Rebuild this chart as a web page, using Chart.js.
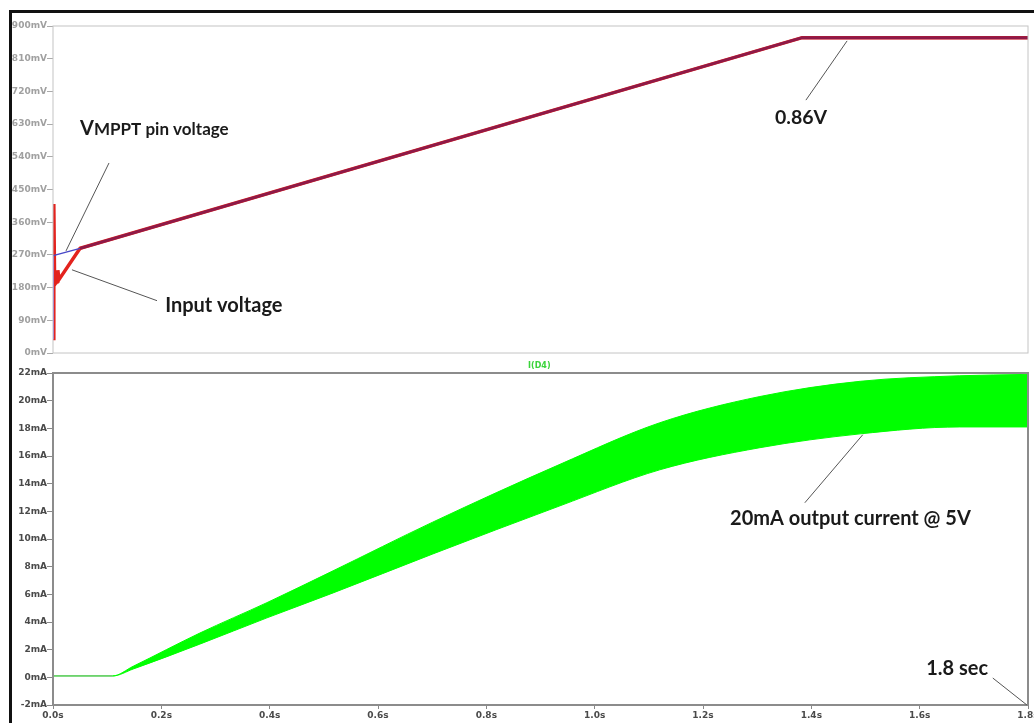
<!DOCTYPE html>
<html>
<head>
<meta charset="utf-8">
<script src="https://cdn.jsdelivr.net/npm/chart.js@4.4.1/dist/chart.umd.min.js"></script>
<style>
  body { margin: 0; background: #fff; overflow: hidden; width: 1034px; height: 723px; position: relative; }
  #cornice { position: absolute; left: 9px; top: 10px; width: 1100px; height: 800px; border-left: 3px solid #111; border-top: 3px solid #111; }
  canvas { position: absolute; left: 0; }
  #topChart { top: 0; }
  #bottomChart { top: 356px; }
</style>
</head>
<body>
<div id="cornice"></div>
<canvas id="topChart" width="1066" height="364"></canvas>
<canvas id="bottomChart" width="1066" height="367"></canvas>
<script>
// Tensioni (mV) - grafico superiore
const timeVmppt = [0, 0.0004, 0.05, 1.383, 1.8];
const vmppt = [40, 268, 288, 868, 868];
const timeInput = [0, 0.0015, 0.003, 0.0075, 0.009, 0.011, 0.05, 1.383, 1.8];
const inputVoltage = [40, 410, 188, 198, 228, 202, 288, 868, 868];

// Corrente I(D4) (mA) - inviluppo della banda, grafico inferiore
const timeCurrent = [0, 0.11, 0.148, 0.271, 0.395, 0.517, 0.7, 0.936, 1.12, 1.305, 1.49, 1.674, 1.8];
const currentUpper = [0.1, 0.1, 0.8, 3.2, 5.4, 7.7, 11.2, 15.4, 18.4, 20.3, 21.4, 21.8, 21.9];
const currentLower = [0.1, 0.1, 0.6, 2.4, 4.3, 6.1, 8.9, 12.4, 15.0, 16.6, 17.6, 18.1, 18.1];

// Etichette degli assi
const voltTicks = { min: 0, max: 900, step: 90 };
const ampTicks = { min: -2, max: 22, step: 2 };
const timeTicks = { min: 0, max: 1.8, step: 0.2 };

const toPoints = (xs, ys) => xs.map((x, i) => ({ x: x, y: ys[i] }));

const LABEL_FONT = { family: '"DejaVu Sans", sans-serif', size: 9, weight: 'bold' };
const NOTE_FONT = 'Lato, "Open Sans", sans-serif';

// Plugin per cornice del grafico, testi e linee di richiamo
const annotazioni = {
  id: 'annotazioni',
  afterDatasetsDraw(chart, args, opts) {
    const { ctx, chartArea, scales } = chart;
    const x = scales.x;
    const y = scales.y;
    ctx.save();
    ctx.strokeStyle = opts.frameColor;
    ctx.lineWidth = opts.frameWidth;
    ctx.strokeRect(chartArea.left, chartArea.top, chartArea.right - chartArea.left, chartArea.bottom - chartArea.top);

    (opts.lines || []).forEach((l) => {
      ctx.strokeStyle = '#555';
      ctx.lineWidth = 1;
      ctx.beginPath();
      ctx.moveTo(x.getPixelForValue(l[0]), y.getPixelForValue(l[1]));
      ctx.lineTo(x.getPixelForValue(l[2]), y.getPixelForValue(l[3]));
      ctx.stroke();
    });

    (opts.texts || []).forEach((t) => {
      ctx.fillStyle = t.color || '#1a1a1a';
      ctx.textBaseline = 'alphabetic';
      let px = x.getPixelForValue(t.x);
      const py = y.getPixelForValue(t.y);
      t.parts.forEach(([str, size]) => {
        ctx.font = `bold ${size}px ${t.family || NOTE_FONT}`;
        ctx.fillText(str, px, py);
        px += ctx.measureText(str).width;
      });
    });
    ctx.restore();
  },
};

const baseOptions = {
  responsive: false,
  animation: false,
  events: [],
  devicePixelRatio: 1,
};

// Grafico superiore: tensioni
new Chart(document.getElementById('topChart'), {
  type: 'line',
  plugins: [annotazioni],
  data: {
    datasets: [
      {
        label: 'VMPPT pin voltage',
        data: toPoints(timeVmppt, vmppt),
        borderColor: '#8e1a48',
        borderWidth: 3,
        pointRadius: 0,
        tension: 0,
        segment: {
          borderColor: (c) => (c.p0.parsed.x < 0.0003 ? '#8a5ad0' : c.p0.parsed.x < 0.04 ? '#4848c8' : undefined),
          borderWidth: (c) => (c.p0.parsed.x < 0.04 ? 1.5 : undefined),
        },
      },
      {
        label: 'Input voltage',
        data: toPoints(timeInput, inputVoltage),
        borderColor: '#e3231e',
        borderWidth: 3.5,
        pointRadius: 0,
        tension: 0,
      },
    ],
  },
  options: {
    ...baseOptions,
    layout: { padding: { top: 26, right: 38, left: 0, bottom: 0 } },
    scales: {
      x: {
        type: 'linear',
        min: timeTicks.min,
        max: timeTicks.max,
        ticks: { display: false },
        grid: { display: false },
        border: { display: false },
        afterFit: (s) => { s.height = 11; },
      },
      y: {
        min: voltTicks.min,
        max: voltTicks.max,
        ticks: {
          stepSize: voltTicks.step,
          padding: 0,
          color: '#a0a0a0',
          font: LABEL_FONT,
          callback: (v) => v + 'mV',
        },
        grid: { drawOnChartArea: false, tickLength: 6, color: '#aaa' },
        border: { display: false },
        afterFit: (s) => { s.width = 53; },
      },
    },
    plugins: {
      legend: { display: false },
      tooltip: { enabled: false },
      annotazioni: {
        frameColor: '#c4c4c4',
        frameWidth: 1,
        lines: [
          [0.1034, 523, 0.024, 281],
          [0.035, 229, 0.192, 144],
          [1.466, 859, 1.39, 696],
        ],
        texts: [
          { x: 0.05, y: 600, parts: [['V', 20], ['MPPT pin voltage', 17]] },
          { x: 0.207, y: 113, parts: [['Input voltage', 20]] },
          { x: 1.333, y: 631, parts: [['0.86V', 19.5]] },
        ],
      },
    },
  },
});

// Grafico inferiore: corrente I(D4)
new Chart(document.getElementById('bottomChart'), {
  type: 'line',
  plugins: [annotazioni],
  data: {
    datasets: [
      {
        label: 'I(D4) max',
        data: toPoints(timeCurrent, currentUpper),
        borderColor: '#00ff00',
        backgroundColor: '#00ff00',
        fill: '+1',
        borderWidth: 1,
        pointRadius: 0,
        cubicInterpolationMode: 'monotone',
        segment: { borderColor: (c) => (c.p0.parsed.x < 0.1 ? '#4cc94c' : undefined) },
      },
      {
        label: 'I(D4) min',
        data: toPoints(timeCurrent, currentLower),
        borderColor: '#00ff00',
        borderWidth: 1,
        fill: false,
        pointRadius: 0,
        cubicInterpolationMode: 'monotone',
        segment: { borderColor: (c) => (c.p0.parsed.x < 0.1 ? '#4cc94c' : undefined) },
      },
    ],
  },
  options: {
    ...baseOptions,
    layout: { padding: { top: 17, right: 38, left: 0, bottom: 0 } },
    scales: {
      x: {
        type: 'linear',
        min: timeTicks.min,
        max: timeTicks.max,
        ticks: {
          stepSize: timeTicks.step,
          autoSkip: false,
          maxRotation: 0,
          padding: 1,
          color: '#4a4a4a',
          font: LABEL_FONT,
          callback: (v) => v.toFixed(1) + 's',
        },
        grid: { drawOnChartArea: false, tickLength: 4, color: '#888' },
        border: { display: false },
        afterFit: (s) => { s.height = 18; },
      },
      y: {
        min: ampTicks.min,
        max: ampTicks.max,
        ticks: {
          stepSize: ampTicks.step,
          padding: 0,
          color: '#4a4a4a',
          font: LABEL_FONT,
          callback: (v) => v + 'mA',
        },
        grid: { drawOnChartArea: false, tickLength: 6, color: '#888' },
        border: { display: false },
        afterFit: (s) => { s.width = 53; },
      },
    },
    plugins: {
      legend: { display: false },
      tooltip: { enabled: false },
      annotazioni: {
        frameColor: '#8c8c8c',
        frameWidth: 2,
        lines: [
          [1.495, 17.54, 1.388, 12.62],
          [1.735, -0.05, 1.798, -2],
        ],
        texts: [
          { x: 1.25, y: 11.0, parts: [['20mA output current @ 5V', 20]] },
          { x: 1.612, y: 0.17, parts: [['1.8 sec', 20]] },
          { x: 0.877, y: 22.35, color: '#3ad43a', family: '"DejaVu Sans", sans-serif', parts: [['I(D4)', 8]] },
        ],
      },
    },
  },
});
</script>
</body>
</html>
